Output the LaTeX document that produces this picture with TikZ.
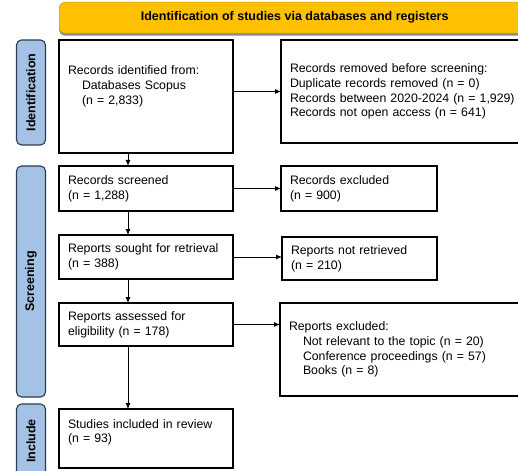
\documentclass[tikz,border=0pt]{standalone}
\usepackage{fontspec}
\setmainfont{Liberation Sans}
\usepackage{xcolor}
\usetikzlibrary{arrows.meta,positioning,shadows}
\definecolor{prismagold}{HTML}{FFC000}
\definecolor{prismagoldedge}{HTML}{C99A00}
\definecolor{prismablue}{HTML}{A3C2E5}
\definecolor{prismaedge}{HTML}{2E3B4E}

\begin{document}
\begin{tikzpicture}[
        x=1pt, y=-1pt,
        box/.style={
          draw,
          line width=1.2pt,
          inner xsep=9pt,
          inner ysep=0pt,
          outer sep=0pt,
          align=left,
          font=\fontsize{12.3}{14.8}\selectfont
        },
        phase/.style={
          draw=prismaedge,
          fill=prismablue,
          line width=1.1pt,
          rounded corners=5pt,
          minimum height=29pt,
          inner sep=0pt,
          rotate=90,
          font=\bfseries\fontsize{12.5}{14}\selectfont
        },
        banner/.style={
          draw=prismagoldedge,
          fill=prismagold,
          rounded corners=6pt,
          minimum width=471pt,
          minimum height=31pt,
          anchor=north west,
          drop shadow={shadow xshift=0pt, shadow yshift=-2.5pt, fill=black!45, opacity=1},
          font=\bfseries\fontsize{12.5}{14}\selectfont
        },
        arrow/.style={
          -{Latex[length=6pt,width=5pt]},
          line width=0.9pt
        }
      ]
      \useasboundingbox (0,0) rectangle (518,470);

      % header and phases
      \node[banner] (head) at (59,2) {Identification of studies via databases and registers};
      \node[phase, minimum width=105pt] (pident) at (31,92.5) {Identification};
      \node[phase, minimum width=231pt] (pscreen) at (31,281.5) {Screening};
      \node[phase, minimum width=74pt] (pincl) at (31,441) {Include};

      % left column
      \node[box, anchor=north west, text width=156pt, minimum height=113pt] (ident) at (59,40) {
        Records identified from:\\
        \hspace*{14pt}Databases Scopus\\
        \hspace*{14pt}(n = 2,833)\\[8pt]\mbox{}
      };

      \node[box, text width=156pt, minimum height=45pt, below=13pt of ident] (screened) {
        Records screened\\
        (n = 1,288)
      };

      \node[box, text width=156pt, minimum height=44pt, below=24pt of screened] (sought) {
        Reports sought for retrieval\\
        (n = 388)
      };

      \node[box, text width=156pt, minimum height=43pt, below=24pt of sought] (assessed) {
        Reports assessed for\\
        eligibility (n = 178)
      };

      \node[box, text width=156pt, minimum height=59pt, below=63pt of assessed] (included) {
        Studies included in review\\
        (n = 93)\\ \mbox{}
      };

      % right column
      \node[box, text width=226pt, minimum height=103pt, right=48pt of ident.north east, anchor=north west] (removed) {
        Records removed before screening:\\
        Duplicate records removed (n = 0)\\
        Records between 2020-2024 (n = 1,929)\\
        Records not open access (n = 641)
      };

      \node[box, text width=138pt, minimum height=45pt, right=48pt of screened] (excluded) {
        Records excluded\\
        (n = 900)
      };

      \node[box, text width=137pt, minimum height=43pt, right=49pt of sought, yshift=-1.5pt] (notretr) {
        Reports not retrieved\\
        (n = 210)
      };

      \node[box, text width=227pt, minimum height=93pt, right=47pt of assessed.north east, anchor=north west] (repexcl) {
        Reports excluded:\\
        \hspace*{14pt}Not relevant to the topic (n = 20)\\
        \hspace*{14pt}Conference proceedings (n = 57)\\
        \hspace*{14pt}Books (n = 8)
      };

      % connectors
      \foreach \from/\to in {ident/screened, screened/sought, sought/assessed, assessed/included}
        \draw[arrow] ([xshift=69pt]\from.south west) -- ([xshift=69pt]\to.north west);

      \draw[arrow] (ident.east |- removed.west) -- (removed.west);
      \draw[arrow] (screened.east) -- (excluded.west);
      \draw[arrow] (sought.east) -- (sought.east -| notretr.west);
      \draw[arrow] (assessed.east) -- (assessed.east -| repexcl.west);

      \end{tikzpicture}
\end{document}
